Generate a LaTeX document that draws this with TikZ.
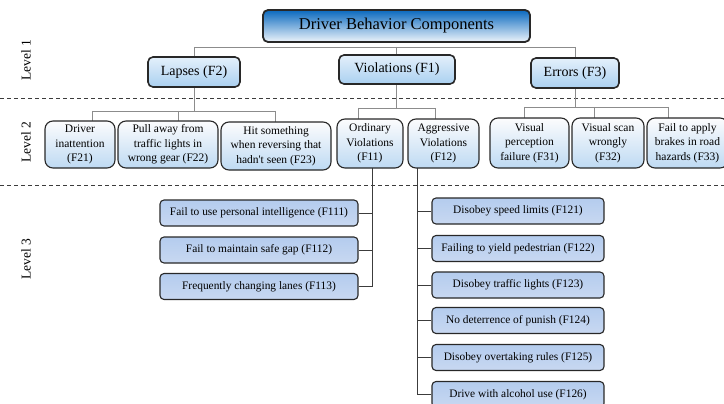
\documentclass[tikz,border=0pt]{standalone}
\usepackage{fontspec}
\setmainfont{Liberation Serif}
\usetikzlibrary{calc}

\definecolor{rootTop}{RGB}{10,105,190}
\definecolor{rootMid}{RGB}{185,212,240}
\definecolor{rootBot}{RGB}{238,244,251}
\definecolor{oneTop}{RGB}{228,240,251}
\definecolor{oneBot}{RGB}{170,208,240}
\definecolor{twoTop}{RGB}{252,252,253}
\definecolor{twoBot}{RGB}{190,218,243}
\definecolor{thrTop}{RGB}{180,204,238}
\definecolor{thrMid}{RGB}{236,242,251}
\definecolor{thrBot}{RGB}{200,216,241}
\definecolor{connGray}{RGB}{140,140,140}
\definecolor{connDark}{RGB}{60,60,60}
\definecolor{edgeDark}{RGB}{40,40,40}

\tikzset{
  rootbox/.style={draw=edgeDark, line width=1.8pt, rounded corners=5pt,
    top color=rootTop, middle color=rootMid, bottom color=rootBot,
    font=\fontsize{16.5}{18}\selectfont, inner sep=0pt},
  onebox/.style={draw=edgeDark, line width=1.6pt, rounded corners=5pt,
    top color=oneTop, bottom color=oneBot,
    font=\fontsize{14}{16}\selectfont, inner sep=0pt},
  twobox/.style={draw=edgeDark, line width=1.1pt, rounded corners=8pt,
    top color=twoTop, middle color=twoTop, bottom color=twoBot,
    font=\fontsize{11.5}{14.5}\selectfont, align=center, inner sep=0pt},
  thrbox/.style={draw=edgeDark, line width=1.1pt, rounded corners=4pt,
    top color=thrTop, middle color=thrMid, bottom color=thrBot,
    font=\fontsize{11.4}{13}\selectfont, inner sep=0pt,
    minimum height=26pt},
  conn/.style={draw=connGray, line width=0.9pt},
  connd/.style={draw=connDark, line width=1pt},
  levelsep/.style={draw=connDark, line width=0.9pt, dash pattern=on 4pt off 3pt},
  levellabel/.style={rotate=90, font=\fontsize{13.5}{15}\selectfont}
}

\begin{document}
\begin{tikzpicture}[x=1pt, y=-1pt]
\useasboundingbox (0,0) rectangle (724,404);
\clip (0,0) rectangle (724,404);

% level separators
\coordinate (sepAL) at (0,98);
\coordinate (sepAR) at (724,98);
\coordinate (sepBL) at (0,185);
\coordinate (sepBR) at (724,185);
\draw[levelsep] (sepAL) -- (sepAR);
\draw[levelsep] (sepBL) -- (sepBR);

\node[levellabel] (lev1) at (26,60) {Level 1};
\node[levellabel] (lev2) at (26,142) {Level 2};
\node[levellabel] (lev3) at (26,259) {Level 3};

% junction points of the tree
\coordinate (jTop) at (396.5,47);
\coordinate (jL) at (194,47);
\coordinate (jR) at (575,47);
\coordinate (d21) at (92,111);
\coordinate (d22) at (178,111);
\coordinate (d23) at (275,111);
\coordinate (d11) at (358,108);
\coordinate (d12) at (435,108);
\coordinate (d31) at (524,107);
\coordinate (d32) at (594,107);
\coordinate (d33) at (668,107);
\coordinate (v11) at (372,286.5);
\coordinate (v12) at (417,394.5);

% connectors (drawn first, boxes cover them)
\draw[conn] (jL) -- (jR);
\draw[conn] (jTop) -- (jTop |- 0,60);
\draw[conn] (jL) -- (jL |- 0,111);
\draw[conn] (jR) -- (jR |- 0,107);
\draw[conn] (jTop |- 0,60) -- (jTop |- 0,108);
\draw[conn] (d21) -- (d23);
\draw[conn] (d11) -- (d12);
\draw[conn] (d31) -- (d33);
\foreach \d in {d21,d22,d23} \draw[conn] (\d) -- ++(0,12);
\foreach \d in {d11,d12} \draw[conn] (\d) -- ++(0,12);
\foreach \d in {d31,d32,d33} \draw[conn] (\d) -- ++(0,12);
\draw[connd] (v11 |- 0,160) -- (v11);
\draw[connd] (v12 |- 0,160) -- (v12);

% root and level 1
\node[rootbox, minimum width=267pt, minimum height=32pt] (root) at (396.5,26) {Driver Behavior Components};
\node[onebox, minimum width=92pt, minimum height=30pt] (lapses) at (194,72) {Lapses (F2)};
\node[onebox, minimum width=116pt, minimum height=29pt] (viol) at (397,69.5) {Violations (F1)};
\node[onebox, minimum width=88pt, minimum height=30pt] (errors) at (575,73) {Errors (F3)};

% level 2
\node[twobox, minimum width=70pt, minimum height=47pt] (f21) at (80,144.5) {Driver\\inattention\\(F21)};
\node[twobox, minimum width=100pt, minimum height=47pt] (f22) at (168,144.5) {Pull away from\\traffic lights in\\wrong gear (F22)};
\node[twobox, minimum width=110pt, minimum height=48pt] (f23) at (276,146) {Hit something\\when reversing that\\hadn\textquotesingle t seen (F23)};
\node[twobox, minimum width=66pt, minimum height=49pt] (f11) at (370,143.5) {Ordinary\\Violations\\(F11)};
\node[twobox, minimum width=71pt, minimum height=49pt] (f12) at (443.5,143.5) {Aggressive\\Violations\\(F12)};
\node[twobox, minimum width=79pt, minimum height=50pt] (f31) at (529.5,143) {Visual\\perception\\failure (F31)};
\node[twobox, minimum width=72pt, minimum height=50pt] (f32) at (608,143) {Visual scan\\wrongly\\(F32)};
\node[twobox, minimum width=81pt, minimum height=50pt] (f33) at (687.5,143) {Fail to apply\\brakes in road\\hazards (F33)};

% level 3, ordinary violations
\node[thrbox, minimum width=198pt] (f111) at (259,213) {Fail to use personal intelligence (F111)};
\node[thrbox, minimum width=198pt] (f112) at (259,250) {Fail to maintain safe gap (F112)};
\node[thrbox, minimum width=198pt] (f113) at (259,286.5) {Frequently changing lanes (F113)};

% level 3, aggressive violations
\node[thrbox, minimum width=172pt] (f121) at (518,211) {Disobey speed limits (F121)};
\node[thrbox, minimum width=172pt] (f122) at (518,248.5) {Failing to yield pedestrian (F122)};
\node[thrbox, minimum width=172pt] (f123) at (518,285) {Disobey traffic lights (F123)};
\node[thrbox, minimum width=172pt] (f124) at (518,320.5) {No deterrence of punish (F124)};
\node[thrbox, minimum width=172pt] (f125) at (518,357.5) {Disobey overtaking rules (F125)};
\node[thrbox, minimum width=172pt] (f126) at (518,394.5) {Drive with alcohol use (F126)};

% stubs from the level 3 spines to their boxes
\foreach \b in {f111,f112,f113} \draw[connd] (\b.east) -- (\b.east -| v11);
\foreach \b in {f121,f122,f123,f124,f125,f126} \draw[connd] (\b.west) -- (\b.west -| v12);
\end{tikzpicture}
\end{document}
